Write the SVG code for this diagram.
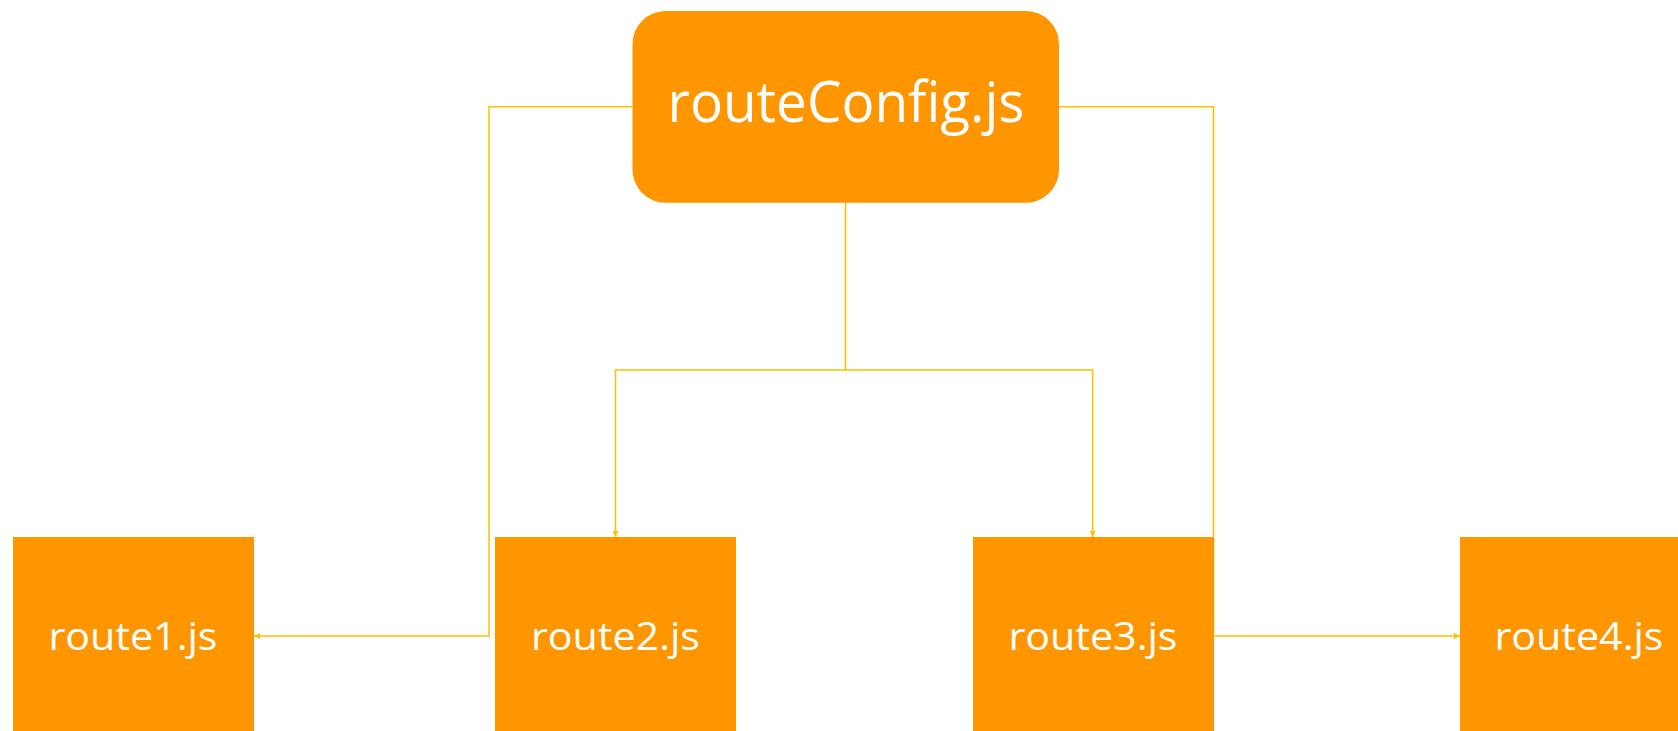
<svg xmlns="http://www.w3.org/2000/svg" width="1678" height="731" viewBox="0 0 1678 731">
<style>
.box{fill:#FF9600}
.lbl{fill:#FFFFFF;font-family:"Open Sans","Liberation Sans",sans-serif;text-anchor:middle}
.con{fill:none;stroke:#FFC000;stroke-width:1.5}
</style>
<defs>
<marker id="ah" viewBox="0 0 10 10" refX="10" refY="5" markerWidth="6" markerHeight="6" markerUnits="userSpaceOnUse" orient="auto">
<path d="M0,0 L10,5 L0,10 z" fill="#FFC000"/>
</marker>
</defs>
<rect width="1678" height="731" fill="#FFFFFF"/>
<g id="connectors">
<path class="con" d="M632.5,106.7 H489 V636 H254" marker-end="url(#ah)"/>
<path class="con" d="M1059,106.7 H1213.5 V636 H1460" marker-end="url(#ah)"/>
<path class="con" d="M845.5,202.7 V370 H615.5 V537" marker-end="url(#ah)"/>
<path class="con" d="M845.5,370 H1092.7 V537" marker-end="url(#ah)"/>
</g>
<g id="routeConfig">
<rect class="box" x="632.5" y="11" width="426.5" height="191.7" rx="33" ry="33"/>
<text class="lbl" x="846" y="121.7" font-size="56" textLength="357" lengthAdjust="spacingAndGlyphs">routeConfig.js</text>
</g>
<g id="route1">
<rect class="box" x="13" y="537" width="241" height="200"/>
<text class="lbl" x="133" y="650" font-size="39" textLength="169" lengthAdjust="spacingAndGlyphs">route1.js</text>
</g>
<g id="route2">
<rect class="box" x="495" y="537" width="241" height="200"/>
<text class="lbl" x="615.5" y="650" font-size="39" textLength="169" lengthAdjust="spacingAndGlyphs">route2.js</text>
</g>
<g id="route3">
<rect class="box" x="973" y="537" width="241" height="200"/>
<text class="lbl" x="1093" y="650" font-size="39" textLength="169" lengthAdjust="spacingAndGlyphs">route3.js</text>
</g>
<g id="route4">
<rect class="box" x="1460" y="537" width="241" height="200"/>
<text class="lbl" x="1579" y="650" font-size="39" textLength="169" lengthAdjust="spacingAndGlyphs">route4.js</text>
</g>
</svg>
